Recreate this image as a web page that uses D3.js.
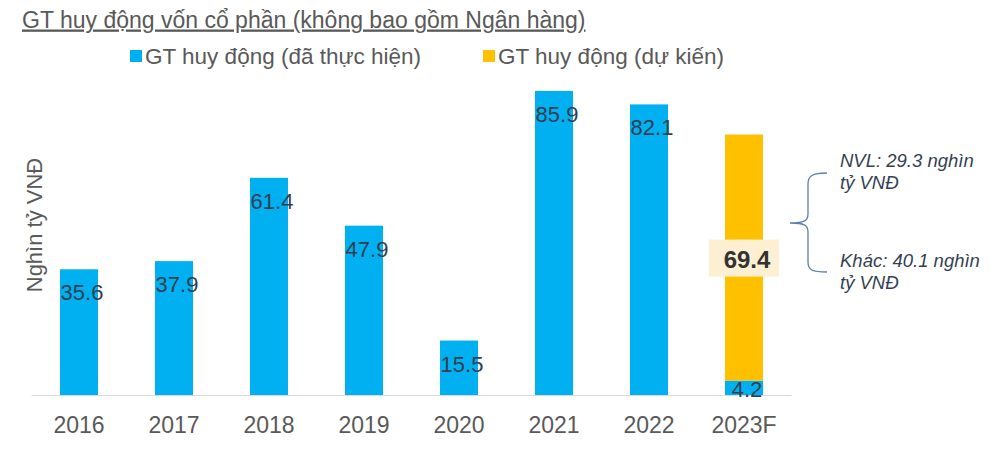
<!DOCTYPE html>
<html>
<head>
<meta charset="utf-8">
<script src="https://cdn.jsdelivr.net/npm/d3@7"></script>
<style>
    body { margin: 0; background: #fff; }
    svg { font-family: "Liberation Sans", Arial, sans-serif; }
</style>
</head>
<body>
<svg></svg>
<script>

const years = ["2016", "2017", "2018", "2019", "2020", "2021", "2022", "2023F"]
const done = [35.6, 37.9, 61.4, 47.9, 15.5, 85.9, 82.1, 4.2]
const planned = [0, 0, 0, 0, 0, 0, 0, 69.4]

const legendLabels = ["GT huy động (đã thực hiện)", "GT huy động (dự kiến)"]
const notes = [
    ["NVL: 29.3 nghìn", "tỷ VNĐ"],
    ["Khác: 40.1 nghìn", "tỷ VNĐ"]
]

const blue = "#00b0f0"
const yellow = "#ffc000"
const textGrey = "#595959"

const svg = d3.select("svg")
    .attr("width", 1000)
    .attr("height", 454)

const x = d3.scaleBand()
    .domain(years)
    .range([31.5, 791.5])
    .paddingInner(0.6)
    .paddingOuter(0.3)

const y = d3.scaleLinear()
    .domain([0, 90])
    .range([395.5, 76.4])

// title
svg.append("text")
    .attr("x", 22)
    .attr("y", 27.5)
    .attr("font-size", 23)
    .attr("fill", textGrey)
    .attr("text-decoration", "underline")
    .text("GT huy động vốn cổ phần (không bao gồm Ngân hàng)")

// legend
const legend = svg.append("g")
const legendX = [130, 483]
const legendColors = [blue, yellow]
legendLabels.forEach(function (label, i) {
    legend.append("rect")
        .attr("x", legendX[i])
        .attr("y", 50)
        .attr("width", 12)
        .attr("height", 12)
        .attr("fill", legendColors[i])
    legend.append("text")
        .attr("x", legendX[i] + 15)
        .attr("y", 64)
        .attr("font-size", 22.5)
        .attr("fill", textGrey)
        .text(label)
})

// y axis title
svg.append("text")
    .attr("transform", "translate(42, 225) rotate(-90)")
    .attr("text-anchor", "middle")
    .attr("font-size", 22)
    .attr("fill", textGrey)
    .text("Nghìn tỷ VNĐ")

// bars
const bars = svg.append("g")

bars.selectAll("rect.done")
    .data(years)
    .enter()
    .append("rect")
    .attr("class", "done")
    .attr("x", d => x(d))
    .attr("width", x.bandwidth())
    .attr("y", (d, i) => y(done[i]))
    .attr("height", (d, i) => y(0) - y(done[i]))
    .attr("fill", blue)

bars.selectAll("rect.planned")
    .data(years.filter((d, i) => planned[i] > 0))
    .enter()
    .append("rect")
    .attr("class", "planned")
    .attr("x", d => x(d))
    .attr("width", x.bandwidth())
    .attr("y", d => {
        const i = years.indexOf(d)
        return y(done[i] + planned[i])
    })
    .attr("height", d => {
        const i = years.indexOf(d)
        return y(done[i]) - y(done[i] + planned[i])
    })
    .attr("fill", yellow)

// axis line
svg.append("line")
    .attr("x1", 31.5)
    .attr("x2", 791.5)
    .attr("y1", y(0))
    .attr("y2", y(0))
    .attr("stroke", "#d9d9d9")
    .attr("stroke-width", 1.2)

// x labels
svg.append("g")
    .selectAll("text")
    .data(years)
    .enter()
    .append("text")
    .attr("x", d => x(d) + x.bandwidth() / 2)
    .attr("y", 433)
    .attr("text-anchor", "middle")
    .attr("font-size", 23)
    .attr("fill", textGrey)
    .text(d => d)

// value labels on blue bars
svg.append("g")
    .selectAll("text")
    .data(years)
    .enter()
    .append("text")
    .attr("x", d => x(d) + x.bandwidth() / 2 + 3)
    .attr("y", (d, i) => Math.min(y(done[i]) + 31, y(0) + 1))
    .attr("text-anchor", "middle")
    .attr("font-size", 22)
    .attr("fill", "#333f50")
    .text((d, i) => done[i].toFixed(1))

// label for planned segment
years.forEach(function (d, i) {
    if (planned[i] <= 0) return
    const cx = x(d) + x.bandwidth() / 2
    const cy = (y(done[i]) + y(done[i] + planned[i])) / 2
    svg.append("rect")
        .attr("x", cx - 35)
        .attr("y", cy - 18)
        .attr("width", 70)
        .attr("height", 37)
        .attr("fill", "#fdf0d2")
    svg.append("text")
        .attr("x", cx + 3)
        .attr("y", cy + 10)
        .attr("text-anchor", "middle")
        .attr("font-size", 24)
        .attr("font-weight", "bold")
        .attr("fill", "#333333")
        .text(planned[i].toFixed(1))
})

// brace
svg.append("path")
    .attr("d", "M827,173 C812,173 808,176 808,184 L808,214 C808,221 804,223 790,223 C804,223 808,225 808,232 L808,262 C808,270 812,272 827,272")
    .attr("fill", "none")
    .attr("stroke", "#5b7fb0")
    .attr("stroke-width", 1.3)

// notes
const noteY = [166.5, 266.5]
notes.forEach(function (lines, i) {
    const t = svg.append("text")
        .attr("x", 840)
        .attr("y", noteY[i])
        .attr("font-size", 18.5)
        .attr("font-style", "italic")
        .attr("fill", "#333f50")
    lines.forEach(function (line, j) {
        t.append("tspan")
            .attr("x", 840)
            .attr("dy", j === 0 ? 0 : 22)
            .text(line)
    })
})

</script>
</body>
</html>
